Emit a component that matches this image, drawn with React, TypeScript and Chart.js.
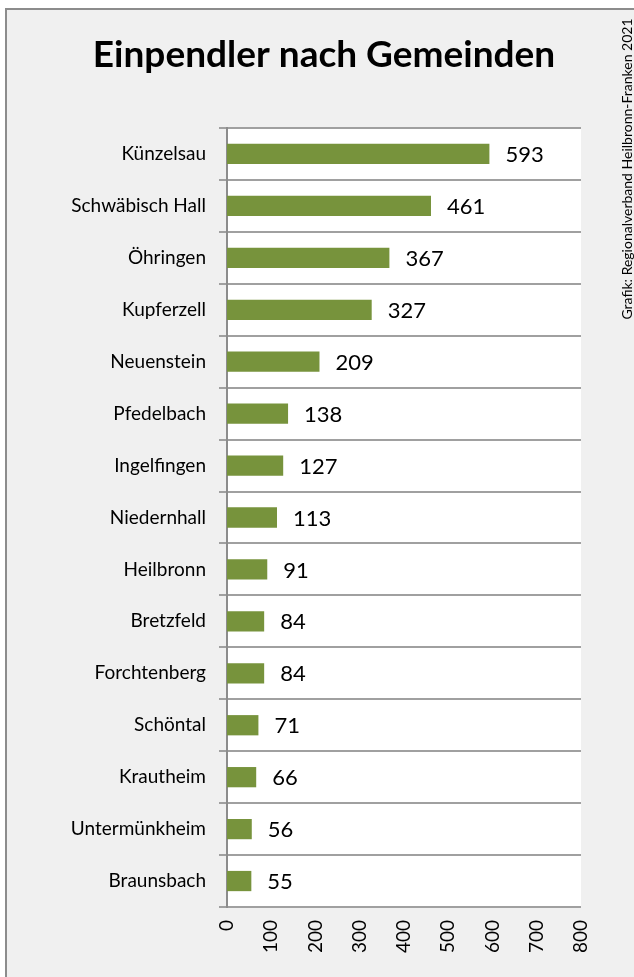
import React, { useEffect, useRef } from "react";
import { Chart, registerables } from "chart.js";

Chart.register(...registerables);

const TITLE = "Einpendler nach Gemeinden";
const SOURCE = "Grafik: Regionalverband Heilbronn-Franken 2021";
const categories = [
  "Künzelsau",
  "Schwäbisch Hall",
  "Öhringen",
  "Kupferzell",
  "Neuenstein",
  "Pfedelbach",
  "Ingelfingen",
  "Niedernhall",
  "Heilbronn",
  "Bretzfeld",
  "Forchtenberg",
  "Schöntal",
  "Krautheim",
  "Untermünkheim",
  "Braunsbach",
];
const values = [593, 461, 367, 327, 209, 138, 127, 113, 91, 84, 84, 71, 66, 56, 55];
const xMin = 0;
const xMax = 800;
const xStep = 100;

const FONT = "Lato, 'Open Sans', sans-serif";

export default function App() {
  const ref = useRef<HTMLCanvasElement | null>(null);

  useEffect(() => {
    if (!ref.current) return;
    const bgPlugin = {
      id: "bg",
      beforeDraw(chart: any) {
        const { ctx, width, height, chartArea } = chart;
        ctx.save();
        ctx.fillStyle = "#ffffff";
        ctx.fillRect(0, 0, width, height);
        ctx.fillStyle = "#f0f0f0";
        ctx.fillRect(7, 10, width - 7, height - 10);
        ctx.strokeStyle = "#8c8c8c";
        ctx.lineWidth = 2;
        ctx.beginPath();
        ctx.moveTo(6, height);
        ctx.lineTo(6, 9);
        ctx.lineTo(width, 9);
        ctx.stroke();
        ctx.fillStyle = "#ffffff";
        ctx.fillRect(chartArea.left, chartArea.top, chartArea.right - chartArea.left, chartArea.bottom - chartArea.top);
        // title
        ctx.fillStyle = "#000000";
        ctx.font = `bold 37px ${FONT}`;
        ctx.textAlign = "center";
        ctx.textBaseline = "alphabetic";
        ctx.fillText(TITLE, 324, 67);
        // source
        ctx.translate(627, 169);
        ctx.rotate(-Math.PI / 2);
        ctx.font = `14px ${FONT}`;
        ctx.textAlign = "center";
        ctx.textBaseline = "middle";
        ctx.fillText(SOURCE, 0, 0);
        ctx.restore();
      },
    };
    const labelPlugin = {
      id: "valueLabels",
      afterDatasetsDraw(chart: any) {
        const { ctx } = chart;
        const meta = chart.getDatasetMeta(0);
        ctx.save();
        ctx.fillStyle = "#000000";
        ctx.font = `22px ${FONT}`;
        ctx.textAlign = "left";
        ctx.textBaseline = "middle";
        meta.data.forEach((bar: any, i: number) => {
          ctx.fillText(String(values[i]), bar.x + 16, bar.y + 1);
        });
        ctx.restore();
      },
    };
    const chart = new Chart(ref.current, {
      type: "bar",
      data: {
        labels: categories,
        datasets: [
          {
            data: values,
            backgroundColor: "#77933C",
            borderWidth: 0,
            categoryPercentage: 1,
            barPercentage: 0.39,
          },
        ],
      },
      options: {
        indexAxis: "y",
        animation: false,
        responsive: true,
        maintainAspectRatio: false,
        layout: { padding: { top: 128, right: 53, bottom: 10, left: 0 } },
        plugins: {
          legend: { display: false },
          title: { display: false },
          tooltip: { enabled: false },
        },
        scales: {
          x: {
            min: xMin,
            max: xMax,
            grid: { display: false, drawTicks: false },
            border: { display: false },
            ticks: {
              stepSize: xStep,
              minRotation: 90,
              maxRotation: 90,
              padding: 13,
              color: "#000000",
              font: { family: FONT, size: 19 },
            },
            afterFit(scale: any) {
              scale.height = 60;
            },
          },
          y: {
            grid: { color: "#a0a0a0", lineWidth: 2, tickLength: 8, offset: true },
            border: { display: true, color: "#8c8c8c", width: 2 },
            ticks: {
              padding: 13,
              color: "#000000",
              font: { family: FONT, size: 19 },
            },
            afterFit(scale: any) {
              scale.width = 227;
            },
          },
        },
      },
      plugins: [bgPlugin, labelPlugin],
    });
    return () => chart.destroy();
  }, []);

  return (
    <div style={{ position: "absolute", left: 0, top: 0, width: 634, height: 977 }}>
      <canvas ref={ref} />
    </div>
  );
}
